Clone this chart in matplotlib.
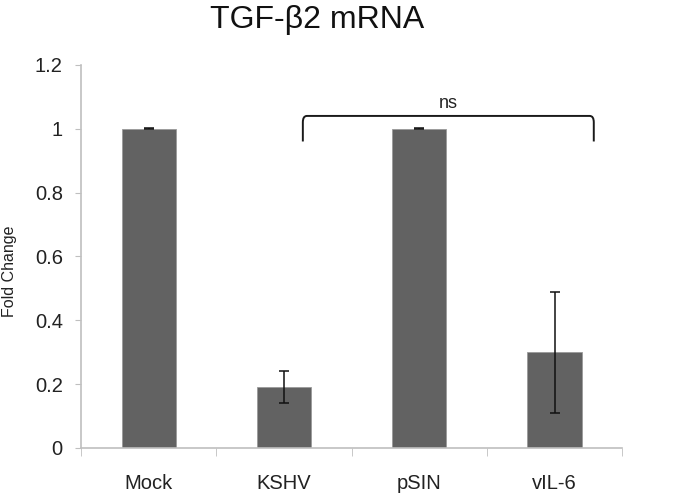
import matplotlib
matplotlib.use("Agg")
import matplotlib.pyplot as plt
import numpy as np
from matplotlib.path import Path
from matplotlib.patches import PathPatch

plt.rcParams['font.family'] = ['Liberation Sans', 'DejaVu Sans']

categories = ['Mock', 'KSHV', 'pSIN', 'vIL-6']
fold_change = [1.0, 0.19, 1.0, 0.30]
errors = [0.002, 0.05, 0.002, 0.19]
yticks = [0, 0.2, 0.4, 0.6, 0.8, 1.0, 1.2]
ytick_labels = ['0', '0.2', '0.4', '0.6', '0.8', '1', '1.2']

axis_grey = '#bfbfbf'
bar_grey = '#626262'

fig = plt.figure(figsize=(6.8, 4.95), dpi=100)
ax = fig.add_axes([0.119, 0.095, 0.796, 0.774])

x = np.arange(len(categories))
ax.bar(x, fold_change, width=0.4, color=bar_grey, edgecolor='#9a9a9a', linewidth=0.6, zorder=2)
ax.errorbar(x, fold_change, yerr=errors, fmt='none', ecolor='#111111',
            elinewidth=1.1, capsize=3.5, capthick=1.1, zorder=3)

ax.set_xlim(-0.5, 3.5)
ax.set_ylim(0, 1.2)
ax.set_yticks(yticks)
ax.set_yticklabels(ytick_labels, fontsize=14.5, color='#222222')
ax.set_xticks(x)
ax.set_xticklabels(categories, fontsize=14.5, color='#222222')
ax.tick_params(axis='x', which='major', length=0, pad=19)
ax.set_xticks(np.arange(-0.5, 4.0, 1.0), minor=True)
ax.tick_params(axis='x', which='minor', length=6, color=axis_grey, direction='out')
ax.tick_params(axis='y', length=4, color=axis_grey, direction='out', pad=9)

for side in ['top', 'right']:
    ax.spines[side].set_visible(False)
ax.spines['left'].set_color(axis_grey)
ax.spines['bottom'].set_color(axis_grey)
ax.spines['left'].set_linewidth(1.2)
ax.spines['bottom'].set_linewidth(1.2)

ax.set_ylabel('Fold Change', fontsize=11.5, color='#222222')
ax.yaxis.set_label_coords(-0.118, 0.46)

# bracket KSHV .. vIL-6 with "ns"
x0, x1 = 1.14, 3.29
ytop, ybot = 1.04, 0.96
r = 0.03
verts = [(x0, ybot), (x0, ytop - 0.02), (x0, ytop), (x0 + r, ytop),
         (x1 - r, ytop), (x1, ytop), (x1, ytop - 0.02), (x1, ybot)]
codes = [Path.MOVETO, Path.LINETO, Path.CURVE3, Path.CURVE3,
         Path.LINETO, Path.CURVE3, Path.CURVE3, Path.LINETO]
ax.add_patch(PathPatch(Path(verts, codes), fill=False, edgecolor='#1a1a1a',
                       linewidth=1.4, clip_on=False, zorder=4))
ax.text((x0 + x1) / 2, ytop + 0.012, 'ns', ha='center', va='bottom', fontsize=13, color='#222222')

fig.text(0.466, 1 - 28 / 495, 'TGF-β2 mRNA', ha='center', va='baseline', fontsize=23, color='#111111')

fig.savefig('out.png', dpi=100)
